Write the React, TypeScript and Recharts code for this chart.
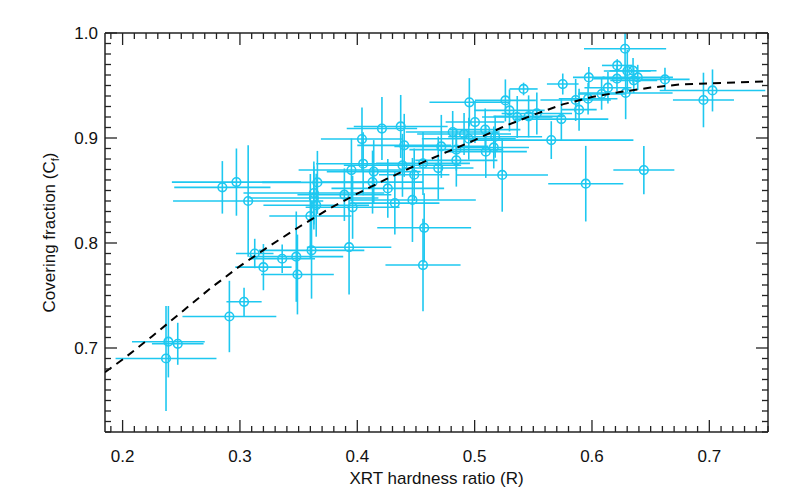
import React from "react";
import { ScatterChart, Scatter, XAxis, YAxis, ErrorBar } from "recharts";

// XRT hardness ratio R of each source
const hardness = [
  0.237, 0.239, 0.247, 0.291, 0.3035, 0.285, 0.297, 0.307, 0.3126, 0.32,
  0.336, 0.348, 0.349, 0.361, 0.456, 0.393, 0.457, 0.447, 0.432, 0.426,
  0.413, 0.395, 0.405, 0.414, 0.404, 0.421, 0.437, 0.44, 0.4385, 0.4485,
  0.456, 0.469, 0.4716, 0.366, 0.363, 0.363, 0.365, 0.389, 0.396, 0.36,
  0.4844, 0.4844, 0.4813, 0.491, 0.495, 0.5003, 0.4955, 0.509, 0.5095, 0.5163,
  0.5175, 0.5235, 0.5297, 0.5262, 0.5363, 0.546, 0.5417, 0.553, 0.5739, 0.5653,
  0.5947, 0.5751, 0.5861, 0.589, 0.5967, 0.5973, 0.6082, 0.6136, 0.6215, 0.6213,
  0.6282, 0.6301, 0.635, 0.6356, 0.639, 0.6287, 0.6622, 0.7027, 0.695, 0.6442,
];

// covering fraction Cf
const covering = [
  0.69, 0.706, 0.704, 0.73, 0.744, 0.853, 0.858, 0.84, 0.79, 0.777,
  0.785, 0.787, 0.77, 0.793, 0.779, 0.796, 0.8145, 0.841, 0.838, 0.852,
  0.858, 0.8695, 0.8755, 0.868, 0.899, 0.909, 0.911, 0.893, 0.874, 0.865,
  0.8758, 0.8714, 0.892, 0.8577, 0.8476, 0.8429, 0.836, 0.846, 0.834, 0.8257,
  0.8889, 0.8787, 0.9057, 0.9038, 0.8993, 0.9152, 0.934, 0.908, 0.887, 0.891,
  0.9012, 0.8648, 0.9263, 0.9358, 0.92, 0.9206, 0.9467, 0.9234, 0.918, 0.898,
  0.8565, 0.9514, 0.9362, 0.927, 0.9374, 0.9577, 0.9419, 0.9479, 0.9691, 0.9565,
  0.985, 0.9638, 0.9641, 0.9549, 0.9577, 0.9429, 0.9558, 0.9453, 0.9362, 0.8695,
];

const hardnessErr = [
  0.043, 0.031, 0.022, 0.04, 0.015, 0.041, 0.055, 0.064, 0.016, 0.024,
  0.028, 0.04, 0.031, 0.045, 0.032, 0.036, 0.04, 0.054, 0.038, 0.048,
  0.043, 0.045, 0.04, 0.04, 0.035, 0.03, 0.04, 0.04, 0.05, 0.03,
  0.04, 0.03, 0.04, 0.047, 0.06, 0.055, 0.045, 0.04, 0.04, 0.035,
  0.04, 0.035, 0.04, 0.04, 0.04, 0.025, 0.034, 0.03, 0.035, 0.03,
  0.04, 0.039, 0.03, 0.026, 0.03, 0.03, 0.012, 0.03, 0.04, 0.07,
  0.032, 0.0135, 0.03, 0.015, 0.025, 0.0135, 0.02, 0.02, 0.013, 0.02,
  0.035, 0.02, 0.02, 0.02, 0.03, 0.04, 0.021, 0.045, 0.026, 0.026,
];

// [below, above]; the top one is cut off by the frame in the original
const coveringErr: (number | number[])[] = [
  0.05, 0.034, 0.02, 0.034, 0.0135, 0.025, 0.032, 0.053, 0.014, 0.022,
  0.0135, 0.043, 0.038, 0.046, 0.044, 0.045, 0.033, 0.04, 0.03, 0.028,
  0.03, 0.03, 0.03, 0.03, 0.03, 0.03, 0.03, 0.03, 0.03, 0.025,
  0.03, 0.03, 0.03, 0.03, 0.03, 0.03, 0.03, 0.025, 0.03, 0.04,
  0.02, 0.025, 0.02, 0.02, 0.02, 0.02, 0.023, 0.02, 0.025, 0.02,
  0.02, 0.035, 0.02, 0.02, 0.02, 0.02, 0.006, 0.02, 0.02, 0.018,
  0.036, 0.01, 0.02, 0.02, 0.015, 0.01, 0.015, 0.015, 0.006, 0.012,
  [0.027, 0.015], 0.02, 0.012, 0.012, 0.012, 0.025, 0.011, 0.02, 0.026, 0.023,
];

// dashed model curve
const modelR = [
  0.185, 0.2, 0.225, 0.25, 0.275, 0.3, 0.325, 0.35, 0.375, 0.4, 0.425, 0.45,
  0.475, 0.5, 0.525, 0.55, 0.575, 0.6, 0.625, 0.65, 0.675, 0.7, 0.725, 0.75,
];
const modelCf = [
  0.677, 0.689, 0.711, 0.734, 0.757, 0.778, 0.797, 0.815, 0.832, 0.847, 0.861, 0.874,
  0.886, 0.898, 0.911, 0.922, 0.932, 0.939, 0.944, 0.948, 0.951, 0.952, 0.953, 0.954,
];

const xTicks = Array.from({ length: 57 }, (_, i) => Math.round((0.19 + i * 0.01) * 100) / 100);
const yTicks = Array.from({ length: 39 }, (_, i) => Math.round((0.62 + i * 0.01) * 100) / 100);

const points = hardness.map((r, i) => ({
  r,
  cf: covering[i],
  re: hardnessErr[i],
  cfe: coveringErr[i],
}));
const model = modelR.map((r, i) => ({ r, cf: modelCf[i] }));

const CYAN = "#1ec8f0";
const INK = "#222";
const FONT = "'Liberation Sans', Arial, sans-serif";
const FS = 17;

const isMajor = (v: number) => Math.abs(v * 10 - Math.round(v * 10)) < 1e-6;
const tickLen = (v: number) => (isMajor(v) ? 12 : 6);

const BottomTick = ({ x, y, payload }: any) => (
  <g>
    <line x1={x} y1={y} x2={x} y2={y - tickLen(payload.value)} stroke={INK} strokeWidth={1.3} />
    {isMajor(payload.value) && (
      <text x={x} y={y + 30} textAnchor="middle" fontSize={FS} fill="#111" fontFamily={FONT}>
        {payload.value.toFixed(1)}
      </text>
    )}
  </g>
);

const TopTick = ({ x, y, payload }: any) => (
  <line x1={x} y1={y} x2={x} y2={y + tickLen(payload.value)} stroke={INK} strokeWidth={1.3} />
);

const LeftTick = ({ x, y, payload }: any) => (
  <g>
    <line x1={x} y1={y} x2={x + tickLen(payload.value)} y2={y} stroke={INK} strokeWidth={1.3} />
    {isMajor(payload.value) && (
      <text x={x - 7} y={y} dy="0.36em" textAnchor="end" fontSize={FS} fill="#111" fontFamily={FONT}>
        {payload.value.toFixed(1)}
      </text>
    )}
  </g>
);

const RightTick = ({ x, y, payload }: any) => (
  <line x1={x} y1={y} x2={x - tickLen(payload.value)} y2={y} stroke={INK} strokeWidth={1.3} />
);

const XTitle = ({ viewBox }: any) => (
  <text
    x={viewBox.x + viewBox.width / 2}
    y={viewBox.y + 52}
    textAnchor="middle"
    fontSize={FS}
    fill="#111"
    fontFamily={FONT}
  >
    XRT hardness ratio (R)
  </text>
);

const YTitle = ({ viewBox }: any) => {
  const cx = viewBox.x + 55;
  const cy = viewBox.y + viewBox.height / 2;
  return (
    <text
      x={cx}
      y={cy}
      transform={`rotate(-90, ${cx}, ${cy})`}
      textAnchor="middle"
      fontSize={FS}
      fill="#111"
      fontFamily={FONT}
    >
      Covering fraction (C
      <tspan fontSize={11} dy={4}>f</tspan>
      <tspan dy={-4}>)</tspan>
    </text>
  );
};

const noMarker = () => <g />;

const Ring = ({ cx, cy }: any) => (
  <circle cx={cx} cy={cy} r={4.3} fill="none" stroke={CYAN} strokeWidth={1.6} />
);

export default function App() {
  return (
    <div style={{ position: "absolute", left: 0, top: 0, background: "#fff" }}>
      <ScatterChart width={800} height={500} margin={{ top: 32, right: 31, bottom: 8, left: 0 }}>
        <XAxis
          dataKey="r"
          type="number"
          domain={[0.185, 0.75]}
          allowDataOverflow
          ticks={xTicks}
          interval={0}
          tickSize={0}
          tickMargin={0}
          tick={BottomTick}
          height={60}
          axisLine={{ stroke: INK, strokeWidth: 1.5 }}
          label={{ content: XTitle }}
        />
        <XAxis
          xAxisId="top"
          dataKey="r"
          orientation="top"
          type="number"
          domain={[0.185, 0.75]}
          allowDataOverflow
          ticks={xTicks}
          interval={0}
          tickSize={0}
          tickMargin={0}
          tick={TopTick}
          height={1}
          axisLine={{ stroke: INK, strokeWidth: 1.5 }}
        />
        <YAxis
          dataKey="cf"
          type="number"
          domain={[0.62, 1.0]}
          allowDataOverflow
          ticks={yTicks}
          interval={0}
          tickSize={0}
          tickMargin={0}
          tick={LeftTick}
          width={105}
          axisLine={{ stroke: INK, strokeWidth: 1.5 }}
          label={{ content: YTitle }}
        />
        <YAxis
          yAxisId="right"
          dataKey="cf"
          orientation="right"
          type="number"
          domain={[0.62, 1.0]}
          allowDataOverflow
          ticks={yTicks}
          interval={0}
          tickSize={0}
          tickMargin={0}
          tick={RightTick}
          width={1}
          axisLine={{ stroke: INK, strokeWidth: 1.5 }}
        />
        <Scatter data={points} shape={Ring} isAnimationActive={false}>
          <ErrorBar dataKey="re" direction="x" width={0} stroke={CYAN} strokeWidth={1.6} />
          <ErrorBar dataKey="cfe" direction="y" width={0} stroke={CYAN} strokeWidth={1.6} />
        </Scatter>
        {/* same domains, so the curve sits on the frame axes */}
        <Scatter
          data={model}
          xAxisId="top"
          yAxisId="right"
          shape={noMarker}
          line={{ stroke: "#000", strokeWidth: 2, strokeDasharray: "8 6" }}
          lineType="joint"
          isAnimationActive={false}
        />
      </ScatterChart>
    </div>
  );
}
